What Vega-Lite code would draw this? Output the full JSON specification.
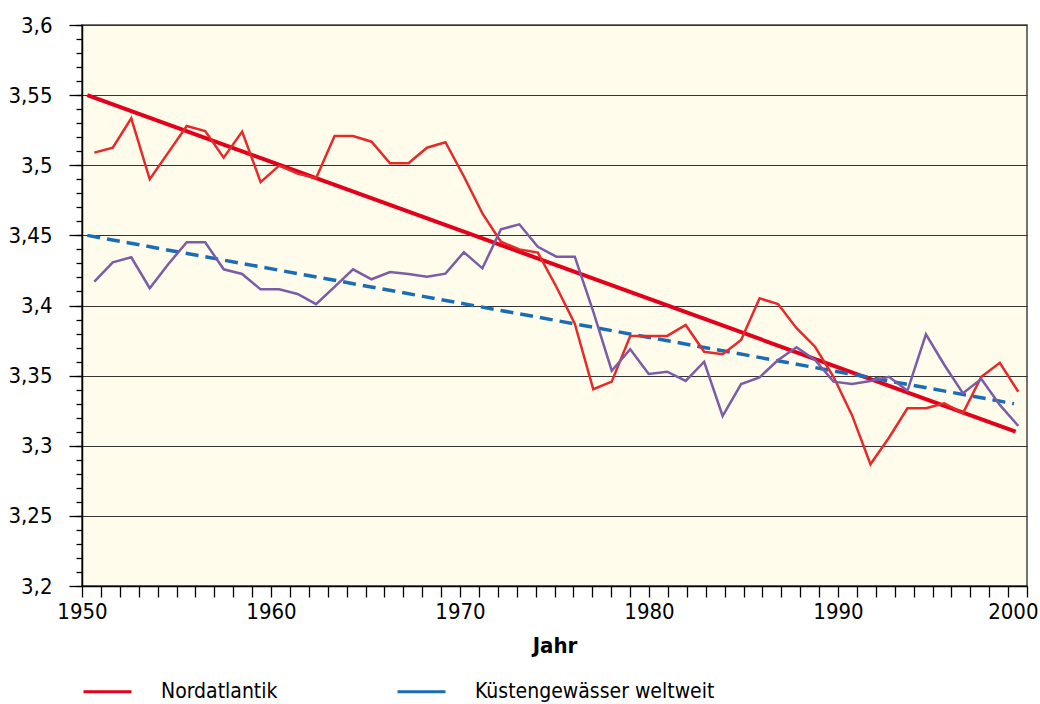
{
  "$schema": "https://vega.github.io/schema/vega-lite/v6.json",
  "width": 945,
  "height": 561,
  "autosize": {"type": "none"},
  "padding": {"left": 82, "top": 25, "right": 13, "bottom": 118},
  "background": "white",
  "config": {
    "font": "'DejaVu Sans Condensed', 'Roboto Condensed', 'Liberation Sans', sans-serif",
    "view": {"fill": "#FFFCEC", "stroke": "#444444", "strokeWidth": 1.5},
    "axis": {"labelColor": "black", "titleColor": "black", "domainColor": "black", "tickColor": "black", "domainWidth": 1.5, "tickWidth": 1.3}
  },
  "datasets": {
    "trend": [
      {"Reihe": "Nordatlantik", "Jahr": 1950.28, "Wert": 3.55},
      {"Reihe": "Nordatlantik", "Jahr": 1999.4, "Wert": 3.31},
      {"Reihe": "Küstengewässer weltweit", "Jahr": 1950.28, "Wert": 3.45},
      {"Reihe": "Küstengewässer weltweit", "Jahr": 1999.31, "Wert": 3.33}
    ],
    "messwerte": [
      {"Jahr": 1950, "Nordatlantik": 3.509, "Kuestengewaesser": 3.417},
      {"Jahr": 1951, "Nordatlantik": 3.5125, "Kuestengewaesser": 3.4308},
      {"Jahr": 1952, "Nordatlantik": 3.5335, "Kuestengewaesser": 3.4344},
      {"Jahr": 1953, "Nordatlantik": 3.49, "Kuestengewaesser": 3.4123},
      {"Jahr": 1954, "Nordatlantik": 3.509, "Kuestengewaesser": 3.4294},
      {"Jahr": 1955, "Nordatlantik": 3.528, "Kuestengewaesser": 3.4451},
      {"Jahr": 1956, "Nordatlantik": 3.5244, "Kuestengewaesser": 3.4451},
      {"Jahr": 1957, "Nordatlantik": 3.5054, "Kuestengewaesser": 3.4258},
      {"Jahr": 1958, "Nordatlantik": 3.524, "Kuestengewaesser": 3.4225},
      {"Jahr": 1959, "Nordatlantik": 3.488, "Kuestengewaesser": 3.4115},
      {"Jahr": 1960, "Nordatlantik": 3.4997, "Kuestengewaesser": 3.4115},
      {"Jahr": 1961, "Nordatlantik": 3.494, "Kuestengewaesser": 3.4082},
      {"Jahr": 1962, "Nordatlantik": 3.4907, "Kuestengewaesser": 3.401},
      {"Jahr": 1963, "Nordatlantik": 3.5209, "Kuestengewaesser": 3.4133},
      {"Jahr": 1964, "Nordatlantik": 3.5209, "Kuestengewaesser": 3.4258},
      {"Jahr": 1965, "Nordatlantik": 3.5168, "Kuestengewaesser": 3.4187},
      {"Jahr": 1966, "Nordatlantik": 3.5014, "Kuestengewaesser": 3.4239},
      {"Jahr": 1967, "Nordatlantik": 3.5014, "Kuestengewaesser": 3.4225},
      {"Jahr": 1968, "Nordatlantik": 3.5125, "Kuestengewaesser": 3.4205},
      {"Jahr": 1969, "Nordatlantik": 3.5164, "Kuestengewaesser": 3.4227},
      {"Jahr": 1970, "Nordatlantik": 3.492, "Kuestengewaesser": 3.438},
      {"Jahr": 1971, "Nordatlantik": 3.4657, "Kuestengewaesser": 3.4265},
      {"Jahr": 1972, "Nordatlantik": 3.4455, "Kuestengewaesser": 3.4543},
      {"Jahr": 1973, "Nordatlantik": 3.44, "Kuestengewaesser": 3.4579},
      {"Jahr": 1974, "Nordatlantik": 3.4377, "Kuestengewaesser": 3.4419},
      {"Jahr": 1975, "Nordatlantik": 3.4134, "Kuestengewaesser": 3.4348},
      {"Jahr": 1976, "Nordatlantik": 3.387, "Kuestengewaesser": 3.4348},
      {"Jahr": 1977, "Nordatlantik": 3.3403, "Kuestengewaesser": 3.3956},
      {"Jahr": 1978, "Nordatlantik": 3.3457, "Kuestengewaesser": 3.3535},
      {"Jahr": 1979, "Nordatlantik": 3.3783, "Kuestengewaesser": 3.3688},
      {"Jahr": 1980, "Nordatlantik": 3.3783, "Kuestengewaesser": 3.3512},
      {"Jahr": 1981, "Nordatlantik": 3.3783, "Kuestengewaesser": 3.3528},
      {"Jahr": 1982, "Nordatlantik": 3.3861, "Kuestengewaesser": 3.3462},
      {"Jahr": 1983, "Nordatlantik": 3.367, "Kuestengewaesser": 3.3599},
      {"Jahr": 1984, "Nordatlantik": 3.3652, "Kuestengewaesser": 3.3212},
      {"Jahr": 1985, "Nordatlantik": 3.3754, "Kuestengewaesser": 3.344},
      {"Jahr": 1986, "Nordatlantik": 3.4051, "Kuestengewaesser": 3.3488},
      {"Jahr": 1987, "Nordatlantik": 3.4011, "Kuestengewaesser": 3.3611},
      {"Jahr": 1988, "Nordatlantik": 3.3838, "Kuestengewaesser": 3.3702},
      {"Jahr": 1989, "Nordatlantik": 3.3706, "Kuestengewaesser": 3.3611},
      {"Jahr": 1990, "Nordatlantik": 3.3492, "Kuestengewaesser": 3.3457},
      {"Jahr": 1991, "Nordatlantik": 3.3218, "Kuestengewaesser": 3.344},
      {"Jahr": 1992, "Nordatlantik": 3.2868, "Kuestengewaesser": 3.3462},
      {"Jahr": 1993, "Nordatlantik": 3.3057, "Kuestengewaesser": 3.3492},
      {"Jahr": 1994, "Nordatlantik": 3.3267, "Kuestengewaesser": 3.3392},
      {"Jahr": 1995, "Nordatlantik": 3.3267, "Kuestengewaesser": 3.3795},
      {"Jahr": 1996, "Nordatlantik": 3.3303, "Kuestengewaesser": 3.3576},
      {"Jahr": 1997, "Nordatlantik": 3.3231, "Kuestengewaesser": 3.3374},
      {"Jahr": 1998, "Nordatlantik": 3.3492, "Kuestengewaesser": 3.3476},
      {"Jahr": 1999, "Nordatlantik": 3.3592, "Kuestengewaesser": 3.3291},
      {"Jahr": 2000, "Nordatlantik": 3.3385, "Kuestengewaesser": 3.3141}
    ]
  },
  "layer": [
    {
      "data": {"name": "trend"},
      "encoding": {
        "x": {
          "field": "Jahr", "type": "quantitative",
          "scale": {"domain": [1950, 2000], "nice": false, "zero": false},
          "axis": {
            "title": "Jahr", "titleFontSize": 22, "titleFontWeight": "bold", "titlePadding": 13,
            "values": [1950,1951,1952,1953,1954,1955,1956,1957,1958,1959,1960,1961,1962,1963,1964,1965,1966,1967,1968,1969,1970,1971,1972,1973,1974,1975,1976,1977,1978,1979,1980,1981,1982,1983,1984,1985,1986,1987,1988,1989,1990,1991,1992,1993,1994,1995,1996,1997,1998,1999,2000],
            "labelExpr": "datum.value % 10 === 0 ? format(datum.value, 'd') : ''",
            "labelFontSize": 22, "labelPadding": 4, "tickSize": 11, "grid": false,
            "labelAlign": {"condition": {"test": "datum.value === 2000", "value": "right"}, "value": "center"},
            "labelOffset": {"condition": {"test": "datum.value === 2000", "value": 11}, "value": 0},
            "labelOverlap": false
          }
        },
        "y": {
          "field": "Wert", "type": "quantitative",
          "scale": {"domain": [3.2, 3.6], "nice": false, "zero": false},
          "axis": {
            "title": null, "orient": "left",
            "values": [3.2, 3.25, 3.3, 3.35, 3.4, 3.45, 3.5, 3.55, 3.6],
            "labelExpr": "replace(format(datum.value, '.2~f'), '.', ',')",
            "labelFontSize": 22, "labelPadding": 17, "tickSize": 13,
            "grid": true, "gridColor": "#333333", "gridWidth": 1.2,
            "labelOverlap": false
          }
        },
        "color": {
          "field": "Reihe", "type": "nominal",
          "scale": {"domain": ["Nordatlantik", "Küstengewässer weltweit"], "range": ["#E2001A", "#1A6DB5"]},
          "legend": {
            "orient": "none", "legendX": 0, "legendY": 641, "direction": "horizontal", "title": null,
            "symbolType": "stroke", "symbolSize": 2304, "symbolStrokeWidth": 3, "symbolDash": [1, 0],
            "labelFontSize": 21, "labelOffset": 28, "columnPadding": 113, "padding": 0, "labelColor": "black", "labelLimit": 500
          }
        }
      },
      "layer": [
        {
          "transform": [{"filter": "datum.Reihe === 'Nordatlantik'"}],
          "mark": {"type": "line", "strokeWidth": 4}
        },
        {
          "transform": [{"filter": "datum.Reihe !== 'Nordatlantik'"}],
          "mark": {"type": "line", "strokeWidth": 3.5, "strokeDash": [13, 7]}
        }
      ]
    },
    {
      "data": {"name": "messwerte"},
      "mark": {"type": "line", "stroke": "#E52A2A", "strokeWidth": 2.5},
      "encoding": {
        "x": {"field": "Jahr", "type": "quantitative", "scale": {"domain": [1949.334, 2000.47], "nice": false, "zero": false}, "axis": null},
        "y": {"field": "Nordatlantik", "type": "quantitative", "scale": {"domain": [3.2, 3.6], "nice": false, "zero": false},
          "axis": {"orient": "left", "title": null, "tickCount": 40, "labels": false, "grid": false, "domain": false, "tickSize": 6, "tickColor": "black", "tickWidth": 1.3}}
      }
    },
    {
      "data": {"name": "messwerte"},
      "mark": {"type": "line", "stroke": "#7A5CA8", "strokeWidth": 2.5},
      "encoding": {
        "x": {"field": "Jahr", "type": "quantitative", "scale": {"domain": [1949.334, 2000.47], "nice": false, "zero": false}, "axis": null},
        "y": {"field": "Kuestengewaesser", "type": "quantitative", "scale": {"domain": [3.2, 3.6], "nice": false, "zero": false}, "axis": null}
      }
    }
  ],
  "resolve": {"scale": {"x": "independent"}, "axis": {"y": "independent"}}
}
